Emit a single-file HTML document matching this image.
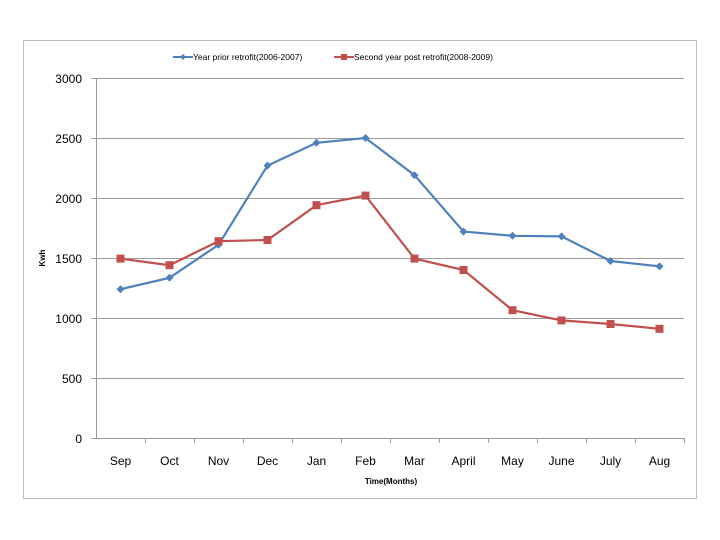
<!DOCTYPE html><html><head><style>body{margin:0;background:#fff}svg{display:block}text{font-family:"Liberation Sans",sans-serif;fill:#000}</style></head><body>
<svg width="720" height="540" viewBox="0 0 720 540">
<rect x="23.5" y="40.5" width="673" height="458" fill="#fff" stroke="#bdbdbd"/>
<g stroke="#9a9a9a" stroke-width="1">
<line x1="91" y1="78.5" x2="684" y2="78.5"/><line x1="91" y1="138.5" x2="684" y2="138.5"/><line x1="91" y1="198.5" x2="684" y2="198.5"/><line x1="91" y1="258.5" x2="684" y2="258.5"/><line x1="91" y1="318.5" x2="684" y2="318.5"/><line x1="91" y1="378.5" x2="684" y2="378.5"/><line x1="91" y1="438.5" x2="684" y2="438.5"/>
<line x1="96.5" y1="78" x2="96.5" y2="438"/>
<line x1="145.5" y1="438" x2="145.5" y2="443"/><line x1="194.5" y1="438" x2="194.5" y2="443"/><line x1="243.5" y1="438" x2="243.5" y2="443"/><line x1="292.5" y1="438" x2="292.5" y2="443"/><line x1="341.5" y1="438" x2="341.5" y2="443"/><line x1="390.5" y1="438" x2="390.5" y2="443"/><line x1="439.5" y1="438" x2="439.5" y2="443"/><line x1="488.5" y1="438" x2="488.5" y2="443"/><line x1="537.5" y1="438" x2="537.5" y2="443"/><line x1="586.5" y1="438" x2="586.5" y2="443"/><line x1="635.5" y1="438" x2="635.5" y2="443"/><line x1="684.5" y1="438" x2="684.5" y2="443"/>
</g>
<g font-size="12" text-anchor="end">
<text x="82" y="83">3000</text><text x="82" y="143">2500</text><text x="82" y="203">2000</text><text x="82" y="263">1500</text><text x="82" y="323">1000</text><text x="82" y="383">500</text><text x="82" y="443">0</text></g>
<g font-size="12" text-anchor="middle">
<text x="120.5" y="465">Sep</text><text x="169.5" y="465">Oct</text><text x="218.5" y="465">Nov</text><text x="267.5" y="465">Dec</text><text x="316.5" y="465">Jan</text><text x="365.5" y="465">Feb</text><text x="414.5" y="465">Mar</text><text x="463.5" y="465">April</text><text x="512.5" y="465">May</text><text x="561.5" y="465">June</text><text x="610.5" y="465">July</text><text x="659.5" y="465">Aug</text></g>
<text x="391" y="484" font-size="8" font-weight="bold" text-anchor="middle">Time(Months)</text>
<text x="0" y="0" font-size="8" font-weight="bold" text-anchor="middle" transform="translate(45,258) rotate(-90)">Kwh</text>
<polyline fill="none" stroke="#4f81bd" stroke-width="2.2" points="120.5,289.2 169.5,277.8 218.5,244.8 267.5,165.6 316.5,142.8 365.5,138 414.5,175.2 463.5,231.6 512.5,235.8 561.5,236.4 610.5,261 659.5,266.4"/>
<g fill="#4f81bd"><path d="M120.5,285.2l4,4-4,4-4-4z"/><path d="M169.5,273.8l4,4-4,4-4-4z"/><path d="M218.5,240.8l4,4-4,4-4-4z"/><path d="M267.5,161.6l4,4-4,4-4-4z"/><path d="M316.5,138.8l4,4-4,4-4-4z"/><path d="M365.5,134l4,4-4,4-4-4z"/><path d="M414.5,171.2l4,4-4,4-4-4z"/><path d="M463.5,227.6l4,4-4,4-4-4z"/><path d="M512.5,231.8l4,4-4,4-4-4z"/><path d="M561.5,232.4l4,4-4,4-4-4z"/><path d="M610.5,257l4,4-4,4-4-4z"/><path d="M659.5,262.4l4,4-4,4-4-4z"/></g>
<polyline fill="none" stroke="#c0504d" stroke-width="2.2" points="120.5,258.6 169.5,265.2 218.5,241.2 267.5,240 316.5,205.2 365.5,195.6 414.5,258.6 463.5,270 512.5,310.2 561.5,320.4 610.5,324 659.5,328.8"/>
<g fill="#c0504d"><rect x="116.5" y="254.6" width="8" height="8"/><rect x="165.5" y="261.2" width="8" height="8"/><rect x="214.5" y="237.2" width="8" height="8"/><rect x="263.5" y="236" width="8" height="8"/><rect x="312.5" y="201.2" width="8" height="8"/><rect x="361.5" y="191.6" width="8" height="8"/><rect x="410.5" y="254.6" width="8" height="8"/><rect x="459.5" y="266" width="8" height="8"/><rect x="508.5" y="306.2" width="8" height="8"/><rect x="557.5" y="316.4" width="8" height="8"/><rect x="606.5" y="320" width="8" height="8"/><rect x="655.5" y="324.8" width="8" height="8"/></g>
<line x1="173" y1="57" x2="193" y2="57" stroke="#4f81bd" stroke-width="2"/><path d="M183,54l3,3-3,3-3-3z" fill="#4f81bd"/>
<text x="193" y="60" font-size="8.5">Year prior retrofit(2006-2007)</text>
<line x1="334" y1="57" x2="354" y2="57" stroke="#c0504d" stroke-width="2"/><rect x="341" y="54" width="6" height="6" fill="#c0504d"/>
<text x="354" y="60" font-size="8.5">Second year post retrofit(2008-2009)</text>
</svg></body></html>
